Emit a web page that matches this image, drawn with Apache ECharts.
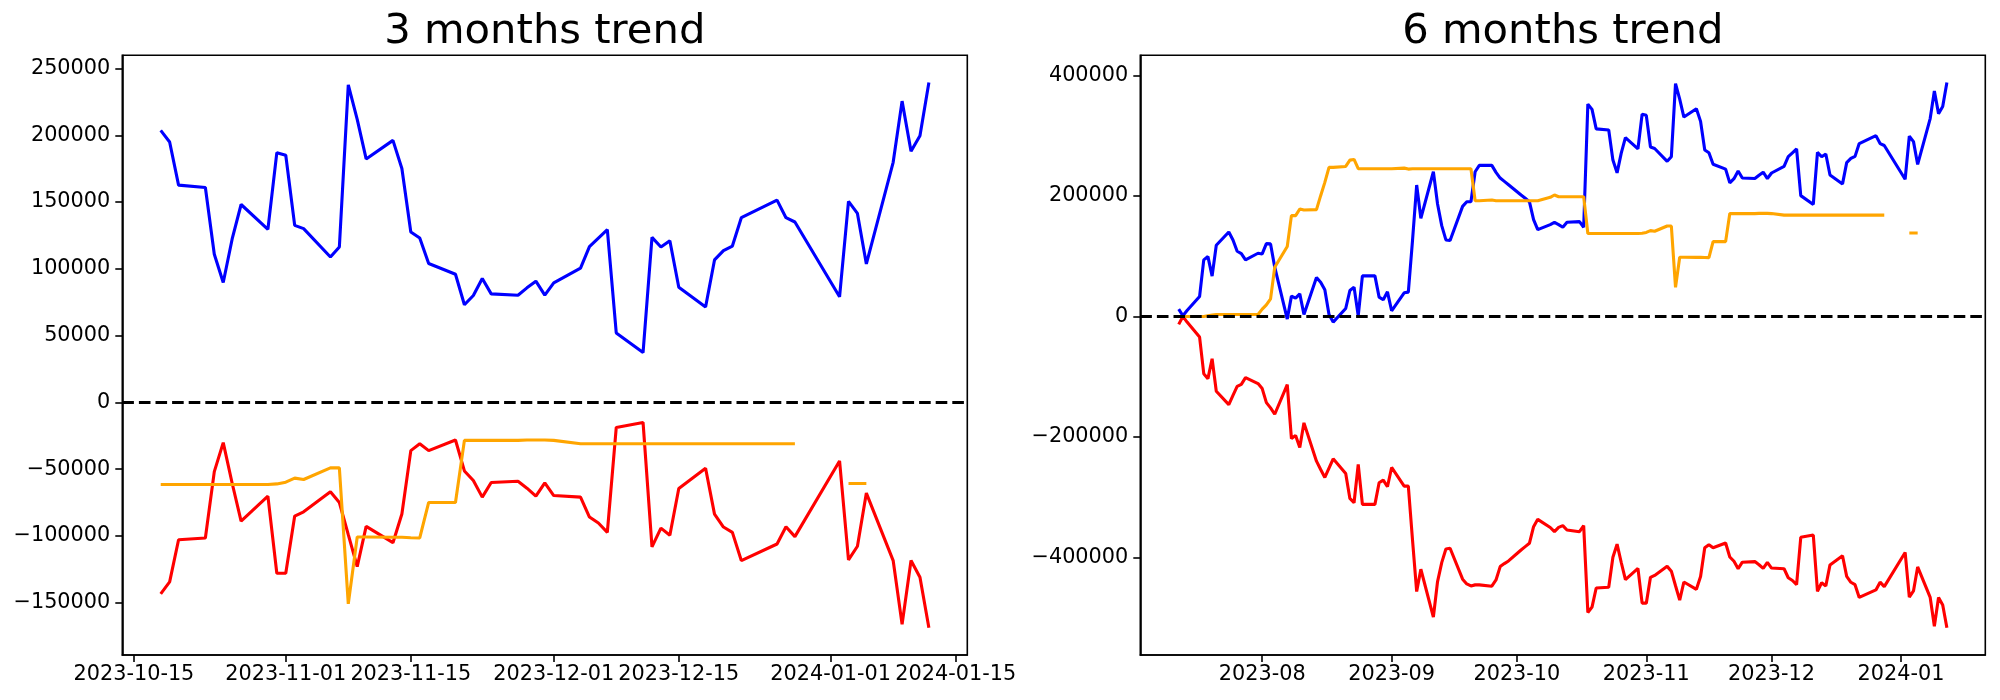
<!DOCTYPE html>
<html><head><meta charset="utf-8">
<script src="https://cdn.jsdelivr.net/npm/echarts@6/dist/echarts.min.js"></script>
<style>html,body{margin:0;padding:0;background:#fff}#c{width:2000px;height:700px}</style>
</head><body><div id="c"></div>
<script>
const titles = ['3 months trend', '6 months trend'];

const leftDates = ['2023-10-18','2023-10-19','2023-10-20','2023-10-23','2023-10-24','2023-10-25','2023-10-26','2023-10-27','2023-10-30','2023-10-31',
'2023-11-01','2023-11-02','2023-11-03','2023-11-06','2023-11-07','2023-11-08','2023-11-09','2023-11-10','2023-11-13','2023-11-14',
'2023-11-15','2023-11-16','2023-11-17','2023-11-20','2023-11-21','2023-11-22','2023-11-23','2023-11-24','2023-11-27','2023-11-28',
'2023-11-29','2023-11-30','2023-12-01','2023-12-04','2023-12-05','2023-12-06','2023-12-07','2023-12-08','2023-12-11','2023-12-12',
'2023-12-13','2023-12-14','2023-12-15','2023-12-18','2023-12-19','2023-12-20','2023-12-21','2023-12-22','2023-12-26','2023-12-27',
'2023-12-28','2024-01-02','2024-01-03','2024-01-04','2024-01-05','2024-01-08','2024-01-09','2024-01-10','2024-01-11','2024-01-12'];

const leftBlue = [203700,195000,162700,160900,110900,89800,122400,148200,129600,187000,
185100,132600,130100,108900,116400,237800,211900,182300,196200,175100,
127600,123100,104000,96000,73100,80100,92800,81300,80300,85800,
90800,80300,89500,100500,116600,123000,129300,52000,37300,123600,
116400,121100,86300,71400,106700,113700,117100,138300,151500,138300,
135100,79100,150500,141500,103700,179800,225600,188000,199700,239500];

const leftRed = [-143300,-134400,-102800,-101500,-51800,-30100,-60500,-88800,-70200,-127900,
-127900,-85100,-81900,-66900,-74900,-99000,-122900,-92800,-105000,-83600,
-36100,-30900,-36100,-28100,-51300,-58500,-70900,-60000,-59000,-64200,
-70200,-60200,-69700,-70900,-85800,-90300,-97300,-18700,-15000,-108200,
-94100,-99500,-64500,-49300,-83600,-93300,-97300,-118400,-106000,-93100,
-100500,-43800,-117900,-107700,-67900,-118400,-166200,-118400,-130900,-168700];

const leftOrange = [-61500,-61500,-61500,-61500,-61500,-61500,-61500,-61500,-61500,-61000,
-59700,-56700,-57700,-49000,-49000,-150800,-100800,-100800,-101000,-101000,
-101300,-101500,-74900,-74900,-28400,-28400,-28400,-28400,-28400,-28100,
-28100,-28100,-28400,-30900,-30900,-30900,-30900,-30900,-30900,-30900,
-30900,-30900,-30900,-30900,-30900,-30900,-30900,-30900,-30900,-30900,
-30900,null,-60700,-60700,-60700,null,null,null,null,null];

const rightEarlyDates = ['2023-07-12','2023-07-13','2023-07-14','2023-07-17','2023-07-18','2023-07-19','2023-07-20','2023-07-21','2023-07-24','2023-07-25','2023-07-26','2023-07-27','2023-07-28','2023-07-31',
'2023-08-01','2023-08-02','2023-08-03','2023-08-04','2023-08-07','2023-08-08','2023-08-09','2023-08-10','2023-08-11','2023-08-14','2023-08-15','2023-08-16','2023-08-17','2023-08-18','2023-08-21','2023-08-22','2023-08-23','2023-08-24','2023-08-25','2023-08-28','2023-08-29','2023-08-30','2023-08-31',
'2023-09-01','2023-09-04','2023-09-05','2023-09-06','2023-09-07','2023-09-08','2023-09-11','2023-09-12','2023-09-13','2023-09-14','2023-09-15','2023-09-18','2023-09-19','2023-09-20','2023-09-21','2023-09-22','2023-09-25','2023-09-26','2023-09-27','2023-09-28','2023-09-29',
'2023-10-02','2023-10-03','2023-10-04','2023-10-05','2023-10-06','2023-10-09','2023-10-10','2023-10-11','2023-10-12','2023-10-13','2023-10-16','2023-10-17'];
const rightDates = rightEarlyDates.concat(leftDates);

const rightBlue = [12100,1100,9900,33100,93800,99300,66800,118100,140100,126900,108100,104300,93800,104800,
103700,120800,120300,81700,-4400,33700,30300,37500,3300,64600,56800,44100,3300,-9400,13200,43000,48600,1100,67300,67300,32000,27600,40800,
9400,39200,40300,125800,217900,162800,240000,186500,150600,126900,125800,182600,190300,190300,240000,250500,250500,238900,229500,224000,218500,
201400,195900,190300,160500,144000,152300,156100,152300,147900,156100,157200,147900,
352100,343400,311100,309300,259300,238200,270800,296600,278000,335400,
333500,281000,278500,257300,264800,386200,360300,330700,344600,323500,
276000,271500,252400,244400,221500,228500,241200,229700,228700,234200,
239200,228700,237900,248900,265000,271400,277700,200400,185700,272000,
264800,269500,234700,219800,255100,262100,265500,286700,299900,286700,
283500,227500,298900,289900,252100,328200,374000,336400,348100,387900];

const rightRed = [-13200,0,-9400,-34200,-94900,-103200,-70100,-124100,-146200,-130800,-115900,-112600,-101500,-111400,
-119700,-142900,-151700,-162200,-113100,-202500,-197500,-217400,-176500,-240000,-253800,-267000,-251600,-236100,-260400,-301800,-309000,-245500,-311700,-311700,-275900,-271400,-282500,
-250500,-281400,-281400,-370700,-456300,-419300,-498700,-439700,-408300,-385600,-384500,-435800,-443600,-446900,-445200,-445200,-447400,-437000,-414900,-409900,-405500,
-387300,-381800,-376300,-348700,-336500,-350000,-357000,-349800,-347000,-354200,-357000,-347000,
-490900,-482000,-450400,-449100,-399400,-377700,-408100,-436400,-417800,-475500,
-475500,-432700,-429500,-414500,-422500,-446600,-470500,-440400,-452600,-431200,
-383700,-378500,-383700,-375700,-398900,-406100,-418500,-407600,-406600,-411800,
-417800,-407800,-417300,-418500,-433400,-437900,-444900,-366300,-362600,-455800,
-441700,-447100,-412100,-396900,-431200,-440900,-444900,-466000,-453600,-440700,
-448100,-391400,-465500,-455300,-415500,-466000,-513800,-466000,-478500,-516300];

const rightOrange = [0,0,0,0,0,1100,2200,3300,3300,3300,3300,3300,3300,3300,
12100,19300,29200,81700,115900,167200,167200,178200,176500,177100,200300,222300,247200,247200,248800,259300,260400,245000,245000,245000,245000,245000,245000,
245000,246000,244400,245000,245000,245000,245000,245000,245000,245000,245000,245000,245000,245000,192000,192000,193100,192000,192000,192000,192000,
192000,192000,192000,192000,192000,197500,201400,198600,198600,198600,198600,198600,
137500,137500,137500,137500,137500,137500,137500,137500,137500,138000,
139300,142300,141300,150000,150000,48200,98200,98200,98000,98000,
97700,97500,124100,124100,170600,170600,170600,170600,170600,170900,
170900,170900,170600,168100,168100,168100,168100,168100,168100,168100,
168100,168100,168100,168100,168100,168100,168100,168100,168100,168100,
168100,null,138300,138300,138300,null,null,null,null,null];

const leftXTicks = ['2023-10-15','2023-11-01','2023-11-15','2023-12-01','2023-12-15','2024-01-01','2024-01-15'];
const rightXTicks = ['2023-08','2023-09','2023-10','2023-11','2023-12','2024-01'];
const leftYTicks = [-150000,-100000,-50000,0,50000,100000,150000,200000,250000];
const rightYTicks = [-400000,-200000,0,200000,400000];

const COLORS = ['#0000ff', '#ff0000', '#ffa500'];
const FONT = 'DejaVu Sans';

function ts(s) { return Date.parse(s.length === 7 ? s + '-01' : s); }
function pairs(dates, vals) { return dates.map((d, i) => [ts(d), vals[i] == null ? '-' : vals[i]]); }
function padRange(lo, hi) { const m = (hi - lo) * 0.05; return [lo - m, hi + m]; }
function valRange(arrs) {
  const all = [].concat(...arrs).filter(v => v != null);
  return padRange(Math.min(...all), Math.max(...all));
}

const grids = [
  { left: 122.3, top: 55.3, width: 845, height: 599.7 },
  { left: 1140.3, top: 55.3, width: 845, height: 599.7 }
];
const panels = [
  { dates: leftDates, series: [leftBlue, leftRed, leftOrange], xticks: leftXTicks, yticks: leftYTicks, fmtLen: 10 },
  { dates: rightDates, series: [rightBlue, rightRed, rightOrange], xticks: rightXTicks, yticks: rightYTicks, fmtLen: 7 }
];

const option = {
  animation: false,
  backgroundColor: '#fff',
  title: panels.map((p, i) => ({
    text: titles[i],
    left: grids[i].left + grids[i].width / 2,
    top: 11,
    padding: 0,
    textAlign: 'center',
    textStyle: { fontFamily: FONT, fontSize: 41.7, fontWeight: 'normal', color: '#000' }
  })),
  grid: grids.map(g => Object.assign({ show: true, borderColor: '#000', borderWidth: 1.6, backgroundColor: 'transparent', containLabel: false }, g)),
  xAxis: panels.map((p, i) => {
    const xr = padRange(ts(p.dates[0]), ts(p.dates[p.dates.length - 1]));
    const tv = p.xticks.map(ts);
    return {
      type: 'value', gridIndex: i, min: xr[0], max: xr[1],
      axisLine: { show: true, onZero: false, lineStyle: { color: '#000', width: 1.6 } },
      axisTick: { show: true, customValues: tv, length: 7, lineStyle: { color: '#000', width: 1.6 } },
      axisLabel: { show: true, customValues: tv, margin: 9, color: '#000', fontFamily: FONT, fontSize: 20.8,
        formatter: v => new Date(v).toISOString().slice(0, p.fmtLen) },
      splitLine: { show: false }
    };
  }),
  yAxis: panels.map((p, i) => {
    const yr = valRange(p.series);
    return {
      type: 'value', gridIndex: i, min: yr[0], max: yr[1],
      axisLine: { show: true, onZero: false, lineStyle: { color: '#000', width: 1.6 } },
      axisTick: { show: true, customValues: p.yticks, length: 7, lineStyle: { color: '#000', width: 1.6 } },
      axisLabel: { show: true, customValues: p.yticks, margin: 12, color: '#000', fontFamily: FONT, fontSize: 20.8,
        formatter: v => (v < 0 ? '\u2212' + Math.abs(v) : String(v)) },
      splitLine: { show: false }
    };
  }),
  series: []
};

panels.forEach((p, i) => {
  p.series.forEach((vals, k) => {
    const s = {
      type: 'line', xAxisIndex: i, yAxisIndex: i,
      data: pairs(p.dates, vals),
      showSymbol: false, symbol: 'none', connectNulls: false,
      lineStyle: { color: COLORS[k], width: 3.1 }, itemStyle: { color: COLORS[k] },
      emphasis: { disabled: true }
    };
    if (k === p.series.length - 1) {
      s.markLine = {
        silent: true, symbol: ['none', 'none'], label: { show: false },
        lineStyle: { color: '#000', type: [11.6, 5], width: 3.1 },
        emphasis: { disabled: true },
        data: [{ yAxis: 0 }]
      };
    }
    option.series.push(s);
  });
});

const chart = echarts.init(document.getElementById('c'), null, { renderer: 'canvas' });
chart.setOption(option);
</script>
</body></html>
